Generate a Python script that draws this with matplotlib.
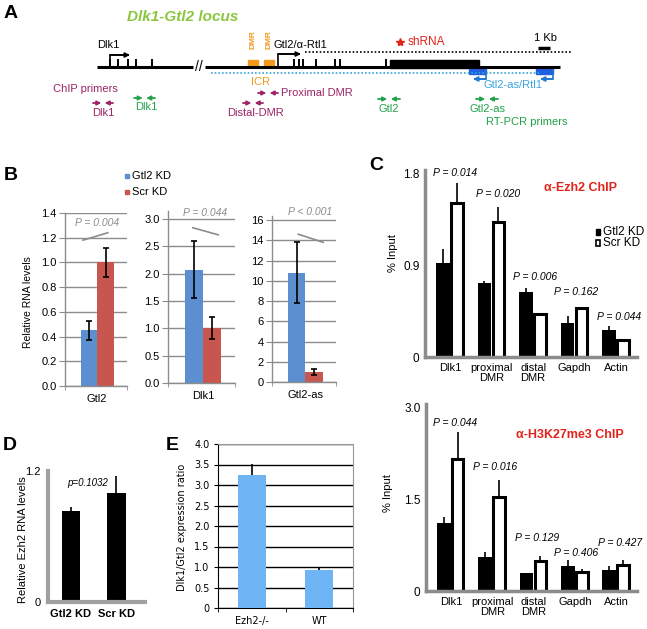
import matplotlib
matplotlib.use('Agg')
import matplotlib.pyplot as plt
from matplotlib.patches import Rectangle
import numpy as np

plt.rcParams['font.family'] = ['Liberation Sans', 'DejaVu Sans']

# ---------------- data ----------------
# Panel A (schematic positions along the locus, in figure pixels)
dlk1_exons = [110, 118, 128, 136, 152]
gtl2_exons = [294, 299, 303, 316, 335, 340, 386]

# Panel B
b_genes = ['Gtl2', 'Dlk1', 'Gtl2-as']
b_gtl2kd = [0.45, 2.07, 10.8]
b_gtl2kd_err = [0.08, 0.52, 3.0]
b_scrkd = [1.0, 1.0, 1.0]
b_scrkd_err = [0.12, 0.20, 0.30]
b_pvals = ['P = 0.004', 'P = 0.044', 'P < 0.001']
b_ymax = [1.4, 3.0, 16]
b_ystep = [0.2, 0.5, 2]
b_fmt = ['{:.1f}', '{:.1f}', '{:.0f}']

# Panel C
c_sites = ['Dlk1', 'proximal\nDMR', 'distal\nDMR', 'Gapdh', 'Actin']
ezh2_kd = [0.92, 0.72, 0.64, 0.33, 0.26]
ezh2_kd_err = [0.14, 0.02, 0.04, 0.07, 0.04]
ezh2_scr = [1.51, 1.32, 0.42, 0.48, 0.17]
ezh2_scr_err = [0.19, 0.15, 0.0, 0.0, 0.0]
ezh2_p = ['P = 0.014', 'P = 0.020', 'P = 0.006', 'P = 0.162', 'P = 0.044']
h3_kd = [1.11, 0.55, 0.30, 0.40, 0.35]
h3_kd_err = [0.10, 0.09, 0.0, 0.11, 0.06]
h3_scr = [2.16, 1.54, 0.49, 0.31, 0.42]
h3_scr_err = [0.44, 0.27, 0.08, 0.05, 0.09]
h3_p = ['P = 0.044', 'P = 0.016', 'P = 0.129', 'P = 0.406', 'P = 0.427']

# Panel D
d_groups = ['Gtl2 KD', 'Scr KD']
d_vals = [0.83, 1.0]
d_err = [0.04, 0.15]
d_p = 'p=0.1032'

# Panel E
e_groups = ['Ezh2-/-', 'WT']
e_vals = [3.25, 0.93]
e_err = [0.27, 0.05]

# ---------------- colours ----------------
BLUE_B = '#5b8fcf'
RED_B = '#c9554f'
BLUE_E = '#6fb5f5'
GREEN = '#22a24a'
MAROON = '#9e2467'
ORANGE = '#f39a1e'
LBLUE = '#38a6de'
DBLUE = '#1f5fe0'
TGREEN = '#8cc63f'
RED = '#e2231a'
GRAY = '#8c8c8c'

W, H = 647, 629
fig = plt.figure(figsize=(W / 100, H / 100), dpi=100)


def rect(l, t, r, b):
    return [l / W, 1 - b / H, (r - l) / W, (b - t) / H]


ov = fig.add_axes([0, 0, 1, 1], zorder=10)
ov.set_xlim(0, W)
ov.set_ylim(H, 0)
ov.axis('off')
ov.patch.set_alpha(0)

# ---------------- Panel A ----------------
ov.text(11, 14, 'A', fontsize=14, fontweight='bold', ha='center', va='center')
ov.text(127, 17, 'Dlk1-Gtl2 locus', fontsize=11, fontweight='bold', style='italic',
        color=TGREEN, ha='left', va='center')

ov.plot([97, 193], [67, 67], color='k', lw=2.2, solid_capstyle='butt')
ov.plot([205, 560], [67, 67], color='k', lw=2.2, solid_capstyle='butt')
ov.text(199, 67, '//', fontsize=10, ha='center', va='center')
for x in dlk1_exons + gtl2_exons:
    ov.plot([x, x], [67, 60], color='k', lw=1.4)
ov.add_patch(Rectangle((390, 60), 89, 8, color='k'))
ov.add_patch(Rectangle((248, 60), 10, 7, color=ORANGE))
ov.add_patch(Rectangle((264, 60), 10, 7, color=ORANGE))
ov.text(253, 40, 'DMR', fontsize=6, fontweight='bold', color=ORANGE, rotation=90,
        ha='center', va='center')
ov.text(269, 40, 'DMR', fontsize=6, fontweight='bold', color=ORANGE, rotation=90,
        ha='center', va='center')


def bent_arrow(pts, color, lw=1.2):
    xs = [p[0] for p in pts]
    ys = [p[1] for p in pts]
    ov.plot(xs[:-1] + [xs[-1] + (2 if xs[-1] < xs[-2] else -2)], ys, color=color, lw=lw)
    ov.annotate('', xy=(xs[-1], ys[-1]), xytext=(xs[-2], ys[-2]),
                arrowprops=dict(arrowstyle='-|>', color=color, lw=lw,
                                mutation_scale=7, shrinkA=0, shrinkB=0))


bent_arrow([(110, 67), (110, 55), (130, 55)], 'k')
bent_arrow([(278, 67), (278, 54), (301, 54)], 'k')
ov.text(97, 45, 'Dlk1', fontsize=8, ha='left', va='center')
ov.text(274, 45, 'Gtl2/α-Rtl1', fontsize=8, ha='left', va='center')

ov.plot([305, 572], [52, 52], color='k', lw=1.2, ls=(0, (1, 1.2)))
ov.plot([211, 540], [73, 73], color=LBLUE, lw=1.2, ls=(0, (1, 1.2)))

ov.plot([400], [42], marker='*', color=RED, ms=6)
ov.text(408, 42, 'shRNA', fontsize=8.5, color=RED, ha='left', va='center')
ov.plot([538, 550], [48, 48], color='k', lw=2.5, solid_capstyle='butt')
ov.text(546, 38, '1 Kb', fontsize=8, ha='center', va='center')

ov.add_patch(Rectangle((469, 67), 17, 7, color=DBLUE))
ov.add_patch(Rectangle((536, 67), 17, 7, color=DBLUE))
bent_arrow([(486, 70), (486, 79), (473, 79)], '#1f78d0')
bent_arrow([(553, 70), (553, 79), (540, 79)], '#1f78d0')
ov.text(513, 85, 'Gtl2-as/Rtl1', fontsize=8, color=LBLUE, ha='center', va='center')
ov.text(261, 82, 'ICR', fontsize=8, color=ORANGE, ha='center', va='center')


def primer_pair(x0, x1, y, color):
    L = (x1 - x0) * 0.42
    ov.annotate('', xy=(x0 + L, y), xytext=(x0, y),
                arrowprops=dict(arrowstyle='-|>', color=color, lw=1.3,
                                mutation_scale=6, shrinkA=0, shrinkB=0))
    ov.annotate('', xy=(x1 - L, y), xytext=(x1, y),
                arrowprops=dict(arrowstyle='-|>', color=color, lw=1.3,
                                mutation_scale=6, shrinkA=0, shrinkB=0))


ov.text(53, 89, 'ChIP primers', fontsize=8, color=MAROON, ha='left', va='center')
primer_pair(93, 113, 103, MAROON)
ov.text(103, 113, 'Dlk1', fontsize=8, color=MAROON, ha='center', va='center')
primer_pair(134, 155, 98, GREEN)
ov.text(146, 107, 'Dlk1', fontsize=8, color=GREEN, ha='center', va='center')
primer_pair(258, 278, 93, MAROON)
ov.text(281, 93, 'Proximal DMR', fontsize=8, color=MAROON, ha='left', va='center')
primer_pair(243, 263, 103, MAROON)
ov.text(256, 113, 'Distal-DMR', fontsize=8, color=MAROON, ha='center', va='center')
primer_pair(378, 400, 99, GREEN)
ov.text(389, 109, 'Gtl2', fontsize=8, color=GREEN, ha='center', va='center')
primer_pair(476, 498, 99, GREEN)
ov.text(488, 109, 'Gtl2-as', fontsize=8, color=GREEN, ha='center', va='center')
ov.text(486, 122, 'RT-PCR primers', fontsize=8, color=GREEN, ha='left', va='center')

# ---------------- Panel B ----------------
ov.text(11, 175, 'B', fontsize=14, fontweight='bold', ha='center', va='center')
ov.add_patch(Rectangle((125, 174), 4, 4, color=BLUE_B))
ov.text(132, 176, 'Gtl2 KD', fontsize=8, ha='left', va='center')
ov.add_patch(Rectangle((125, 190), 4, 4, color=RED_B))
ov.text(132, 192, 'Scr KD', fontsize=8, ha='left', va='center')
ov.text(28, 302, 'Relative RNA levels', fontsize=7.5, rotation=90, ha='center', va='center')

b_rects = [(65, 213, 127, 386), (168, 211, 235, 383), (272, 216, 336, 382)]
b_ylim_top = [1.4, 3.146, 16.4]
b_slant = [((0.29, 0.69), (1.18, 1.24)), ((0.37, 0.75), (2.84, 2.71)), ((0.41, 0.80), (14.6, 13.8))]
b_ptext = [(97, 223), (205, 213), (310, 212)]
for i in range(3):
    ax = fig.add_axes(rect(*b_rects[i]))
    ax.set_xlim(0, 1)
    ax.set_ylim(0, b_ylim_top[i])
    ticks = np.arange(0, b_ymax[i] + 1e-9, b_ystep[i])
    ax.set_yticks(ticks)
    ax.set_yticklabels([b_fmt[i].format(t) for t in ticks], fontsize=8)
    ax.yaxis.grid(True, color=GRAY, lw=1)
    ax.set_axisbelow(True)
    for s in ['top', 'right']:
        ax.spines[s].set_visible(False)
    for s in ['left', 'bottom']:
        ax.spines[s].set_color(GRAY)
        ax.spines[s].set_linewidth(1)
    ax.tick_params(axis='y', direction='out', length=4, color=GRAY, pad=2)
    ax.set_xticks([0.52])
    ax.set_xticklabels([b_genes[i]], fontsize=8)
    ax.set_xticks([0, 1], minor=True)
    ax.tick_params(axis='x', which='major', length=0, pad=6)
    ax.tick_params(axis='x', which='minor', direction='out', length=3, color=GRAY)
    ax.bar(0.385, b_gtl2kd[i], 0.27, color=BLUE_B)
    ax.bar(0.655, b_scrkd[i], 0.27, color=RED_B)
    ax.errorbar([0.385, 0.655], [b_gtl2kd[i], b_scrkd[i]],
                yerr=[b_gtl2kd_err[i], b_scrkd_err[i]], fmt='none', ecolor='k',
                elinewidth=1.2, capsize=2, capthick=1.2)
    ax.plot(b_slant[i][0], b_slant[i][1], color=GRAY, lw=1.2, clip_on=False)
    ov.text(b_ptext[i][0], b_ptext[i][1], b_pvals[i], fontsize=7.5, style='italic',
            color=GRAY, ha='center', va='center')

# ---------------- Panel C ----------------
ov.text(376, 165, 'C', fontsize=14, fontweight='bold', ha='center', va='center')


def chip_axes(r, ytop, ticks, kd, kd_err, scr, scr_err):
    ax = fig.add_axes(rect(*r))
    x = np.arange(len(c_sites))
    ax.set_xlim(-0.6, 4.5)
    ax.set_ylim(0, ytop)
    ax.bar(x - 0.17, kd, 0.33, color='k')
    ax.bar(x + 0.165, scr, 0.28, color='white', edgecolor='k', linewidth=2.2)
    z = np.zeros(len(x))
    ax.errorbar(x - 0.17, kd, yerr=[z, kd_err], fmt='none', ecolor='k', elinewidth=1.2, capsize=0)
    ax.errorbar(x + 0.165, scr, yerr=[z, scr_err], fmt='none', ecolor='k', elinewidth=1.2, capsize=0)
    ax.set_yticks(ticks)
    ax.set_yticklabels(['0', '{:.1f}'.format(ticks[1]), '{:.1f}'.format(ticks[2])], fontsize=8.5)
    ax.set_xticks(x)
    ax.set_xticklabels(c_sites, fontsize=8, linespacing=1.0)
    ax.tick_params(length=0, pad=4)
    for s in ['top', 'right']:
        ax.spines[s].set_visible(False)
    for s in ['left', 'bottom']:
        ax.spines[s].set_color(GRAY)
        ax.spines[s].set_linewidth(2.5)
    return ax


chip_axes((425, 170, 637, 357), 1.83, [0, 0.9, 1.8], ezh2_kd, ezh2_kd_err, ezh2_scr, ezh2_scr_err)
chip_axes((426, 404, 637, 591), 3.05, [0, 1.5, 3.0], h3_kd, h3_kd_err, h3_scr, h3_scr_err)
ov.text(393, 253, '% Input', fontsize=8, rotation=90, ha='center', va='center')
ov.text(388, 493, '% Input', fontsize=8, rotation=90, ha='center', va='center')
for (px, py), t in zip([(433, 173), (476, 194), (513, 277), (554, 292), (597, 317)], ezh2_p):
    ov.text(px, py, t, fontsize=7.5, style='italic', ha='left', va='center')
for (px, py), t in zip([(433, 423), (473, 467), (515, 538), (554, 553), (598, 543)], h3_p):
    ov.text(px, py, t, fontsize=7.5, style='italic', ha='left', va='center')
ov.text(580, 188, 'α-Ezh2 ChIP', fontsize=9, fontweight='bold', color=RED, ha='center', va='center')
ov.text(570, 435, 'α-H3K27me3 ChIP', fontsize=9, fontweight='bold', color=RED, ha='center', va='center')
ov.add_patch(Rectangle((596, 229), 4, 6, color='k'))
ov.text(603, 232, 'Gtl2 KD', fontsize=8.5, ha='left', va='center')
ov.add_patch(Rectangle((596, 240), 4, 6, facecolor='white', edgecolor='k', lw=1.2))
ov.text(603, 243, 'Scr KD', fontsize=8.5, ha='left', va='center')

# ---------------- Panel D ----------------
ov.text(10, 445, 'D', fontsize=14, fontweight='bold', ha='center', va='center')
axd = fig.add_axes(rect(48, 471, 145, 602))
xd = np.arange(len(d_groups))
axd.set_xlim(-0.51, 1.64)
axd.set_ylim(0, 1.2)
axd.bar(xd, d_vals, 0.42, color='k')
axd.errorbar(xd, d_vals, yerr=[np.zeros(2), d_err], fmt='none', ecolor='k', elinewidth=1.2, capsize=0)
axd.set_yticks([0, 1.2])
axd.set_yticklabels(['0', '1.2'], fontsize=8)
axd.set_xticks(xd)
axd.set_xticklabels(d_groups, fontsize=8, fontweight='bold')
axd.tick_params(length=0, pad=5)
for s in ['top', 'right']:
    axd.spines[s].set_visible(False)
for s in ['left', 'bottom']:
    axd.spines[s].set_color('#a0a0a0')
    axd.spines[s].set_linewidth(3)
ov.text(88, 483, d_p, fontsize=7, style='italic', ha='center', va='center')
ov.text(23, 540, 'Relative Ezh2 RNA levels', fontsize=8, rotation=90, ha='center', va='center')

# ---------------- Panel E ----------------
ov.text(172, 445, 'E', fontsize=14, fontweight='bold', ha='center', va='center')
axe = fig.add_axes(rect(218, 444, 353, 608))
xe = np.arange(len(e_groups))
axe.set_xlim(-0.5, 1.5)
axe.set_ylim(0, 4)
axe.bar(xe, e_vals, 0.41, color=BLUE_E, zorder=3)
axe.errorbar(xe, e_vals, yerr=[np.zeros(2), e_err], fmt='none', ecolor='k', elinewidth=1.2,
             capsize=0, zorder=4)
eticks = np.arange(0, 4.01, 0.5)
axe.set_yticks(eticks)
axe.set_yticklabels(['0'] + ['{:.1f}'.format(t) for t in eticks[1:]], fontsize=7,
                    family='DejaVu Sans')
axe.yaxis.grid(True, color='k', lw=1)
axe.set_axisbelow(True)
axe.set_xticks(xe)
axe.set_xticklabels(e_groups, fontsize=7, family='DejaVu Sans')
axe.set_xticks([-0.5, 0.5, 1.5], minor=True)
axe.tick_params(axis='x', which='major', length=0, pad=6)
axe.tick_params(axis='x', which='minor', direction='out', length=3, color='k')
axe.tick_params(axis='y', direction='out', length=3, color='k', pad=3)
axe.spines['left'].set_color('k')
axe.spines['bottom'].set_color('k')
axe.spines['top'].set_color('#999999')
axe.spines['right'].set_color('#999999')
ov.text(182, 527, 'Dlk1/Gtl2 expression ratio', fontsize=7, rotation=90, ha='center',
        va='center', family='DejaVu Sans')

fig.savefig('out.png', dpi=100)
